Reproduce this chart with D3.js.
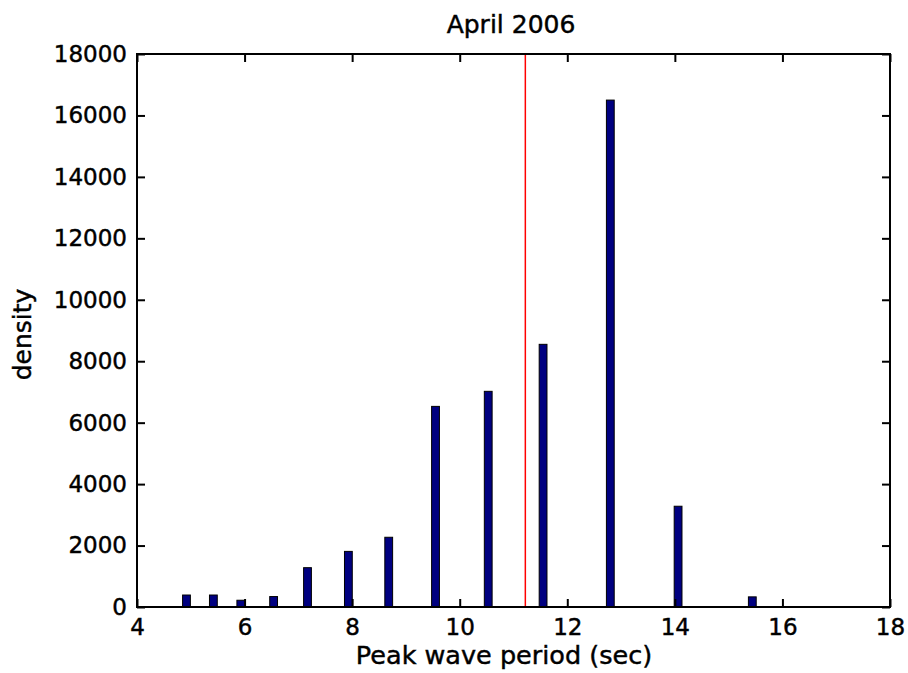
<!DOCTYPE html>
<html>
<head>
<meta charset="utf-8">
<script src="https://cdn.jsdelivr.net/npm/d3@7"></script>
<style>
  body { margin: 0; background: #fff; }
  text { font-family: "DejaVu Sans", sans-serif; fill: #000; stroke: #000; stroke-width: 0.45px; }
</style>
</head>
<body>
<div id="chart"></div>
<script>
// histogram bin centres (sec) and densities
const periods = [4.92, 5.42, 5.93, 6.54, 7.17, 7.93, 8.68, 9.55, 10.53, 11.55, 12.80, 14.06, 15.44];
const densities = [390, 390, 220, 340, 1280, 1810, 2270, 6530, 7020, 8550, 16500, 3280, 330];
const meanPeriod = 11.22;
const xTicks = [4, 6, 8, 10, 12, 14, 16, 18];
const yTicks = [0, 2000, 4000, 6000, 8000, 10000, 12000, 14000, 16000, 18000];

const width = 908, height = 673;
const margin = {left: 137, right: 18, top: 54, bottom: 66};
const barWidth = 0.145;

const svg = d3.select('#chart').append('svg')
    .attr('width', width)
    .attr('height', height)
    .attr('viewBox', `0 0 ${width} ${height}`);

const x = d3.scaleLinear().domain([4, 18]).range([margin.left, width - margin.right]);
const y = d3.scaleLinear().domain([0, 18000]).range([height - margin.bottom, margin.top]);

// bars
svg.append('g').selectAll('rect')
    .data(periods.map((p, i) => ({p, v: densities[i]})))
    .join('rect')
    .attr('x', d => x(d.p - barWidth / 2))
    .attr('width', x(barWidth) - x(0))
    .attr('y', d => y(d.v))
    .attr('height', d => y(0) - y(d.v))
    .attr('fill', '#000080')
    .attr('stroke', '#000')
    .attr('stroke-width', 1);

// mean line
svg.append('line')
    .attr('x1', x(meanPeriod)).attr('x2', x(meanPeriod))
    .attr('y1', y(0)).attr('y2', y(18000))
    .attr('stroke', '#ff0000')
    .attr('stroke-width', 1.5);

// axes box with inward ticks (matlab style)
const tickLen = 8;
const axisOpts = g => g.call(s => s.select('.domain').remove())
    .call(s => s.selectAll('.tick line').attr('stroke', '#000').attr('stroke-width', 2))
    .call(s => s.selectAll('.tick text').attr('font-size', 23));

svg.append('g')
    .attr('transform', `translate(0,${y(0)})`)
    .call(d3.axisBottom(x).tickValues(xTicks).tickSize(-tickLen).tickFormat(d3.format('d')))
    .call(axisOpts)
    .call(g => g.selectAll('.tick text').attr('dy', '0.71em').attr('y', 12));

svg.append('g')
    .attr('transform', `translate(0,${y(18000)})`)
    .call(d3.axisTop(x).tickValues(xTicks).tickSize(-tickLen).tickFormat(''))
    .call(axisOpts);

svg.append('g')
    .attr('transform', `translate(${x(4)},0)`)
    .call(d3.axisLeft(y).tickValues(yTicks).tickSize(-tickLen).tickFormat(d3.format('d')))
    .call(axisOpts)
    .call(g => g.selectAll('.tick text').attr('x', -10));

svg.append('g')
    .attr('transform', `translate(${x(18)},0)`)
    .call(d3.axisRight(y).tickValues(yTicks).tickSize(-tickLen).tickFormat(''))
    .call(axisOpts);

svg.append('rect')
    .attr('x', x(4)).attr('y', y(18000))
    .attr('width', x(18) - x(4)).attr('height', y(0) - y(18000))
    .attr('fill', 'none')
    .attr('stroke', '#000')
    .attr('stroke-width', 2);

// labels
svg.append('text')
    .attr('x', 511).attr('y', 33)
    .attr('text-anchor', 'middle')
    .attr('font-size', 25)
    .text('April 2006');

svg.append('text')
    .attr('x', 504).attr('y', 664)
    .attr('text-anchor', 'middle')
    .attr('font-size', 25.5)
    .text('Peak wave period (sec)');

svg.append('text')
    .attr('transform', `translate(31,${(y(0) + y(18000)) / 2 + 4}) rotate(-90)`)
    .attr('text-anchor', 'middle')
    .attr('font-size', 25)
    .text('density');
</script>
</body>
</html>
